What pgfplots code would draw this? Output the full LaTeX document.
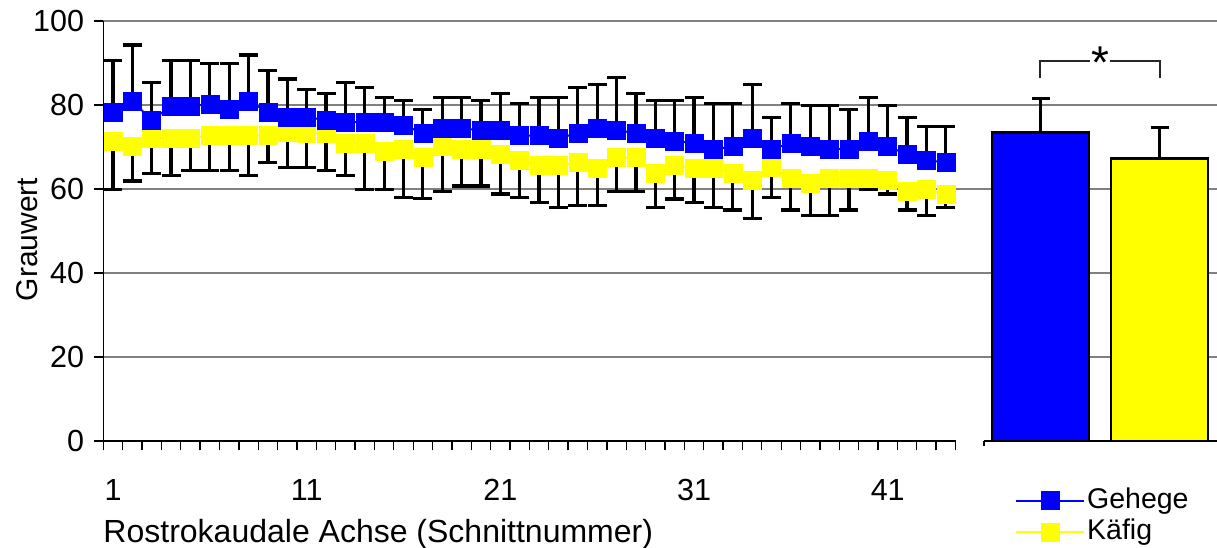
\documentclass[border=0pt]{standalone}
\usepackage{fontspec}
\setmainfont{Liberation Sans}
\usepackage{pgfplots}
\usepackage{pgfplotstable}
\pgfplotsset{compat=1.18}
\definecolor{cblue}{RGB}{0,0,255}
\definecolor{cyel}{RGB}{255,255,0}
\definecolor{cgrid}{RGB}{128,128,128}

\pgfplotstableread{
x g ge k ke
1 78.3 12.2 71.4 11.5
2 81.0 13.3 70.1 8.2
3 76.4 9.0 72.1 8.4
4 79.7 10.8 72.1 8.8
5 79.7 10.8 72.1 7.7
6 80.2 9.7 72.7 8.3
7 79.0 10.9 72.7 8.3
8 81.0 10.9 72.7 9.4
9 78.3 9.9 72.7 6.4
10 77.1 9.1 73.5 8.3
11 77.1 6.6 73.3 8.1
12 76.4 6.4 73.3 8.8
13 75.9 9.5 70.9 7.6
14 75.9 8.3 70.9 11.0
15 75.9 5.8 68.9 9.0
16 75.2 5.8 69.5 11.5
17 73.3 5.7 67.5 9.8
18 74.4 7.3 70.1 10.6
19 74.4 7.3 69.5 8.8
20 74.0 7.0 69.5 8.8
21 74.0 8.8 68.3 9.5
22 72.7 7.7 66.9 8.9
23 72.7 9.0 65.7 8.9
24 72.1 9.6 65.7 10.1
25 73.3 10.9 66.3 10.3
26 74.4 10.4 65.0 9.0
27 74.0 12.6 67.5 8.0
28 73.3 9.5 67.5 8.0
29 72.1 8.9 63.8 8.2
30 71.4 9.6 65.7 8.1
31 70.9 10.8 65.0 8.2
32 69.5 10.9 65.0 9.4
33 70.1 10.3 63.8 8.8
34 72.1 12.7 62.0 9.0
35 69.5 7.6 65.1 7.1
36 70.9 9.5 62.5 7.5
37 70.1 9.7 61.3 7.6
38 69.5 10.3 62.5 8.8
39 69.5 9.5 62.5 7.5
40 71.4 10.3 62.5 2.5
41 70.1 9.7 62.0 3.2
42 68.3 8.8 59.4 4.4
43 66.9 7.9 60.0 6.3
44 66.3 8.5 58.7 3.1
}\data

\begin{document}
\fontsize{30}{36}\selectfont
\begin{tikzpicture}
\path[use as bounding box] (0pt,0pt) rectangle (1217pt,547pt);
\begin{axis}[
  at={(103.3pt,106pt)}, anchor=south west,
  scale only axis, width=852.2pt, height=420pt,
  xmin=0.5, xmax=44.5, ymin=0, ymax=100,
  axis lines=left, axis line style={-, black, line width=1.3pt},
  ytick={0,20,...,100}, xtick={1,11,21,31,41},
  minor xtick={0.5,1.5,...,44.5},
  tick align=outside, major tick length=9pt, minor tick length=9pt,
  tick style={black, line width=1.3pt},
  major x tick style={draw=none},
  ymajorgrids, grid style={cgrid, line width=1.5pt},
  /pgf/number format/assume math mode=true,
  tick label style={font=\fontsize{30.5}{36}\selectfont},
  xticklabel style={yshift=-19pt},
  label style={font=\fontsize{32}{36}\selectfont},
  xlabel={Rostrokaudale Achse (Schnittnummer)},
  xlabel style={at={(axis description cs:0,-0.2405)}, anchor=base west, inner sep=0pt},
  ylabel={Grauwert},
  ylabel style={at={(axis description cs:-0.0895,0.48)}, anchor=center, inner sep=0pt, font=\fontsize{30}{36}\selectfont},
  legend style={at={(axis description cs:1.0698,-0.107)}, anchor=north west, draw=none, fill=none,
    inner sep=0pt, font=\fontsize{28.5}{30}\selectfont, row sep=2pt},
  legend cell align=left,
  reverse legend,
  legend image code/.code={\draw[mark repeat=2,mark phase=2,#1] plot coordinates {(0pt,0pt) (34pt,0pt) (68pt,0pt)};},
  clip=false,
]
\addplot[cyel, line width=2pt, mark=square*, mark size=9pt, mark options={fill=cyel, draw=cyel, line width=0.5pt},
  error bars/.cd, y dir=minus, y explicit, error bar style={black, line width=3.2pt},
  error mark options={rotate=90, black, mark size=9.5pt, line width=3.2pt}]
  table[x=x, y=k, y error=ke]{\data};
\addlegendentry{Käfig}
\addplot[cblue, line width=2pt, mark=square*, mark size=9pt, mark options={fill=cblue, draw=cblue, line width=0.5pt},
  error bars/.cd, y dir=plus, y explicit, error bar style={black, line width=3.2pt},
  error mark options={rotate=90, black, mark size=9.5pt, line width=3.2pt}]
  table[x=x, y=g, y error=ge]{\data};
\addlegendentry{Gehege}
\end{axis}
\begin{axis}[
  at={(955.5pt,106pt)}, anchor=south west,
  scale only axis, width=261.5pt, height=420pt,
  xmin=955.5, xmax=1217, ymin=0, ymax=100,
  axis line style={draw=none},
  xtick=\empty, ytick={20,40,60,80,100}, yticklabels={},
  major tick length=0pt,
  ymajorgrids, grid style={cgrid, line width=1.5pt},
  clip=false,
]
\addplot[ybar, bar width=97pt, bar shift=0pt, fill=cblue, draw=black, line width=2.5pt,
  error bars/.cd, y dir=plus, y explicit, error bar style={black, line width=3.2pt},
  error mark options={rotate=90, black, mark size=9pt, line width=3.2pt}]
  coordinates {(1040.5,73.5) +- (0,8.1)};
\addplot[ybar, bar width=97pt, bar shift=0pt, fill=cyel, draw=black, line width=2.5pt,
  error bars/.cd, y dir=plus, y explicit, error bar style={black, line width=3.2pt},
  error mark options={rotate=90, black, mark size=9pt, line width=3.2pt}]
  coordinates {(1159.5,67.3) +- (0,7.4)};
\draw[black, line width=1.3pt] (axis cs:984,0) -- (axis cs:1217,0);
\draw[black, line width=1.3pt] (axis cs:984,0) -- ++(0pt,-5pt);
\draw[line width=1.3pt, black!85] (axis cs:1040,86.4) |- (axis cs:1160,90.5) -- (axis cs:1160,86.4);
\node[fill=white, inner sep=1pt, font=\fontsize{46}{46}\selectfont, yshift=-2pt] at (axis cs:1100,90.5) {*};
\end{axis}
\end{tikzpicture}
\end{document}
